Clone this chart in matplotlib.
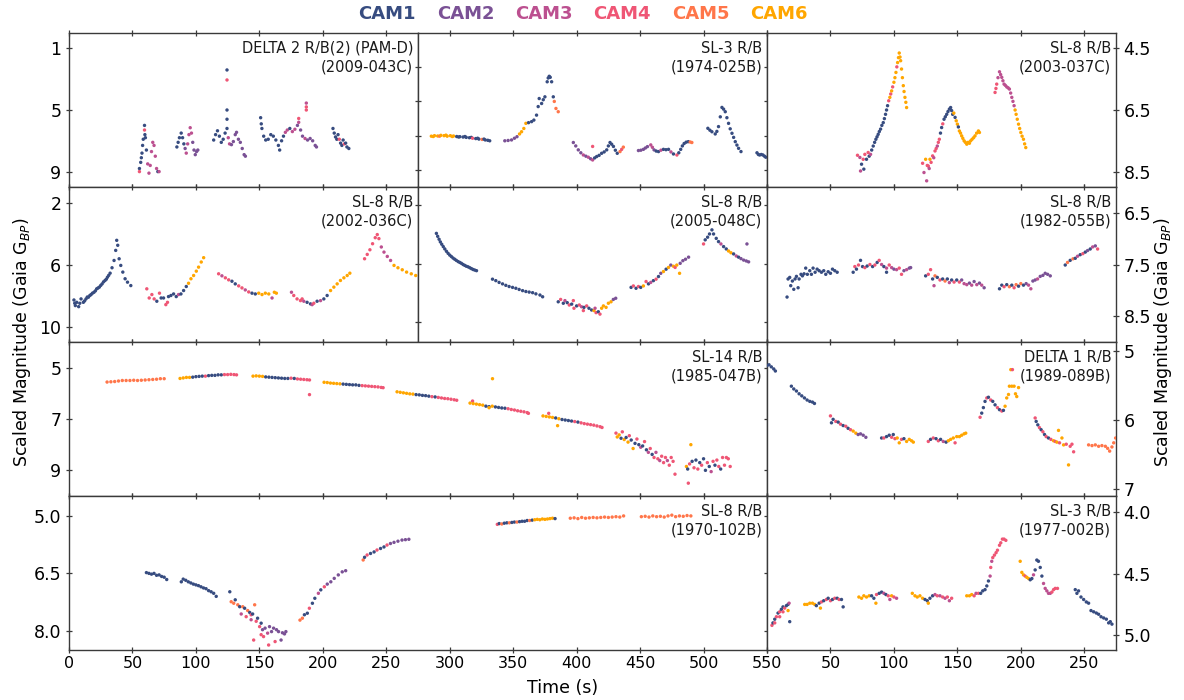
import matplotlib
matplotlib.use("Agg")
import matplotlib.pyplot as plt

CAM_NAMES = ["CAM1", "CAM2", "CAM3", "CAM4", "CAM5", "CAM6"]
CAM_COLORS = ["#374c80", "#7a5195", "#bc5090", "#ef5675", "#ff764a", "#ffa600"]

# ---- data: (time s, scaled magnitude, camera) ----
P1_LABEL = "DELTA 2 R/B(2) (PAM-D)\n(2009-043C)"
P1 = [
    (55.5,8.8,1),(55.5,9.0,4),(56.5,8.4,1),(57,8.1,1),(57.5,7.8,1),(58,7.3,1),(58.5,6.9,1),(59.5,6.0,1),(59.5,6.3,4),
    (59.8,6.6,1),(60.2,6.8,1),(61,7.6,1),(62,8.5,3),(63,9.1,3),(64,8.6,3),(65,7.7,3),(66,7.1,3),(67,7.3,3),
    (68,8.0,3),(69,8.8,3),(70,9.0,1),(71,9.0,3),
    (85,7.4,1),(86,7.1,1),(87,6.8,1),(88.4,6.5,1),(89.5,6.8,1),(90.5,7.2,1),(91.5,7.5,2),(92.4,7.8,3),(93.5,7.2,3),
    (94.5,6.6,3),(95.5,6.15,3),(96.5,6.5,3),(97.5,7.1,2),(98.5,7.6,2),(99.5,7.9,2),(100.5,7.7,2),(101.5,7.6,2),
    (114,6.95,1),(115.5,6.6,1),(117,6.35,1),(118.5,6.7,1),(120,7.1,1),(121.5,6.9,1),(123,6.5,1),(124.5,6.2,1),
    (124.5,2.4,1),(124.5,3.05,4),(124.5,5.0,1),(124.5,5.6,1),(125.5,6.8,3),(126.5,7.2,3),(128,7.25,2),(129.5,7.05,2),
    (131,6.6,2),(132,6.45,2),(133.5,6.9,2),(135,7.1,2),(136.5,7.5,2),(138,7.9,2),(139,8.0,2),
    (151,5.5,1),(151.5,5.9,1),(152,6.2,1),(153.4,6.7,1),(155,6.95,1),(157,6.9,1),(159,6.6,1),(161,6.7,1),(163,6.95,1),
    (165,7.3,1),(166,7.6,1),(167.5,7.0,1),(169,6.7,1),(170.5,6.45,3),(172,6.3,3),(174,6.2,1),(176,6.4,3),(178,6.25,3),
    (180,6.0,2),(181,5.8,3),(181,5.55,4),(182.5,6.3,2),(184,6.7,2),(186,6.85,3),(187,4.55,3),(187,4.8,4),(187,5.0,4),
    (188,6.95,2),(190,6.85,2),(192,7.0,2),(194,7.3,2),(195,7.4,2),
    (208,6.2,1),(209,6.5,1),(210,6.75,1),(211,6.9,1),(212,6.6,1),(213,6.9,4),(214,7.15,1),(215,7.3,1),(216,6.95,1),
    (217,7.2,4),(218,7.15,1),(219,7.4,1),(220.5,7.5,1),
]

P2_LABEL = "SL-3 R/B\n(1974-025B)"
P2 = [
    (10.5,8.03,6),(12,8.05,6),(13,8.0,6),(15.5,8.02,6),(17,8.03,5),(18,7.98,6),(20.5,8.0,6),(22,7.97,6),(23,8.03,6),
    (25.5,8.0,6),(27,8.05,6),(28,8.02,6),(30.5,8.05,1),(32,8.08,1),(33,8.06,1),(35.5,8.08,1),(37,8.05,1),(38,8.1,1),
    (40.5,8.12,1),(42,8.1,1),(43,8.15,4),(45.5,8.17,1),(47,8.15,1),(48,8.2,1),(50.5,8.22,5),(52,8.2,1),(53,8.25,1),
    (55,8.27,1),(56.5,8.3,1),
    (68.4,8.3,2),(71,8.28,2),(73.7,8.25,2),(76,8.15,2),(78,8.06,2),(80,7.9,6),(81.6,7.77,6),(83.4,7.58,6),(85,7.28,6),
    (87.1,7.24,1),(89.5,7.18,1),(91.3,7.09,1),(93.4,6.8,1),(94.7,6.3,1),(95.5,5.83,1),(97.4,6.12,1),(98.7,5.9,1),
    (100,5.73,1),(101.8,4.85,1),(102.6,4.63,1),(103.4,4.53,1),(104.2,4.59,1),(105.3,4.85,1),(106.6,5.73,1),
    (107.4,6.0,5),(108.7,6.41,5),(110.5,6.6,5),
    (122.4,8.4,2),(124.3,8.6,2),(126.3,8.83,2),(128.3,9.0,2),(130.3,9.13,3),(132.3,9.2,2),(134.2,9.26,3),(136,9.35,2),
    (137.6,9.42,3),(137.6,8.63,4),(139.2,9.3,1),(140.8,9.22,1),(142.7,9.15,1),(144.7,9.03,1),(146.7,8.95,1),
    (148.7,8.83,1),(150,8.6,1),(151.3,8.4,1),(152.6,8.5,1),(154,8.63,1),(155.5,8.85,1),(157,9.03,1),(159.2,8.93,5),
    (160.5,8.8,4),(161.8,8.67,5),
    (173.7,8.87,2),(175.6,8.85,2),(177.6,8.8,2),(179.2,8.72,2),(180.8,8.64,2),(183.4,8.54,3),(184.7,8.68,3),(186,8.83,2),
    (187.7,8.9,1),(189.5,8.93,1),(191.4,8.85,3),(193.4,8.8,1),(195.4,8.82,1),(197.4,8.8,1),(199.3,8.95,3),(201.3,9.07,1),
    (204,9.13,4),(205.5,9.0,1),(207,8.8,1),(208.3,8.6,1),(209.7,8.46,1),(211.3,8.38,1),(213,8.35,1),(214.5,8.37,5),
    (215.8,8.4,5),
    (228.4,7.57,1),(230,7.68,1),(231.6,7.77,1),(234.2,7.9,1),(235.5,7.75,1),(236.8,7.47,1),(238.2,6.9,1),(239.5,6.35,1),
    (240.8,6.45,1),(242.1,6.6,1),(243.4,6.95,1),(244.7,7.28,1),(246,7.6,1),(247.4,7.86,1),(248.7,8.1,1),(250,8.35,1),
    (251.3,8.55,1),(252.6,8.74,1),(254.5,8.93,1),
    (267.1,9.0,1),(268.2,9.1,1),(269.2,9.13,1),(270.5,9.1,1),(271.8,9.13,1),(273,9.2,1),(274,9.26,1),
]

P3_LABEL = "SL-8 R/B\n(2003-037C)"
P3 = [
    (71.3,7.97,4),(73.2,8.04,3),(73.7,8.48,3),(74.5,8.26,1),(75.8,8.1,4),(76.3,8.42,1),(77.1,7.94,4),(78.4,8.1,1),
    (79.7,7.88,4),(80.5,8.0,1),(81.6,7.94,3),(82.5,7.8,1),(83.7,7.67,1),(84.8,7.55,1),(85.8,7.45,1),(86.7,7.37,1),
    (87.6,7.29,1),(88.5,7.2,1),(89.5,7.12,1),(90.5,7.0,1),(91.6,6.91,1),(92.5,6.78,1),(93.4,6.64,1),(94.2,6.5,1),
    (95,6.36,1),(95.9,6.2,4),(96.8,6.09,6),(97.5,5.98,4),(98.2,5.88,6),(99,5.75,4),(100,5.6,6),(100.8,5.45,6),
    (101.6,5.28,6),(102.3,5.1,4),(102.9,4.96,6),(103.6,4.8,6),(104.2,4.65,6),(104.8,4.78,6),(105.3,4.9,6),(106,5.17,6),
    (106.7,5.45,6),(107.4,5.71,6),(108,5.9,6),(108.7,6.09,6),(109.4,6.25,6),(110,6.42,6),
    (122.6,8.23,4),(123.7,8.53,3),(125,8.1,6),(125.8,8.8,3),(126.3,8.3,4),(127.1,8.32,4),(127.8,8.4,3),(128.4,8.1,6),
    (129.3,8.2,4),(130.5,7.99,4),(131.4,8.05,3),(132.4,7.83,4),(133.3,7.75,4),(134.2,7.67,3),(135,7.55,4),(135.8,7.45,4),
    (136.7,7.25,1),(137.6,7.07,1),(138.5,6.95,4),(139.5,6.8,1),(140.5,6.72,1),(141.6,6.64,1),(142.6,6.55,1),
    (143.7,6.47,1),(144.7,6.42,1),(145.5,6.52,1),(146.3,6.64,1),(147.2,6.6,6),(148.2,6.74,1),(149.1,6.85,6),
    (150,6.96,6),(150.8,7.05,1),(151.6,7.18,6),(152.5,7.25,6),(153.4,7.34,6),(154.3,7.42,6),(155.3,7.5,6),
    (156.3,7.55,6),(157.4,7.61,6),(158.5,7.55,6),(159.5,7.58,6),(160.5,7.5,6),(161.6,7.45,6),(162.8,7.4,6),
    (163.9,7.34,6),(165.2,7.25,6),(166.6,7.18,6),(167.4,7.23,6),
    (179.7,5.93,4),(180.4,5.8,4),(181,5.66,4),(182,5.45,3),(183.2,5.26,3),(184.1,5.35,3),(185,5.44,3),(185.9,5.55,3),
    (186.8,5.66,3),(187.8,5.7,3),(188.9,5.75,3),(190,5.78,3),(191,5.82,3),(192,5.95,3),(192.9,6.09,3),(193.8,6.22,3),
    (194.7,6.36,3),(195.5,6.5,6),(196.3,6.64,6),(197.2,6.8,6),(198.2,6.96,6),(199.1,7.1,6),(200,7.23,6),(201,7.35,6),
    (202.1,7.45,6),(203,7.6,6),(203.9,7.72,6),
]

P4_LABEL = "SL-8 R/B\n(2002-036C)"
P4 = [
    (3.9,8.29,1),(4.5,8.5,1),(5,8.65,1),(6.1,8.44,1),(7.6,8.72,1),(8.5,8.5,1),(9.5,8.22,1),(11.3,8.44,1),(12.3,8.35,1),
    (13.4,8.22,1),(14.4,8.1,1),(15.3,8.11,1),(16.4,8.0,1),(17.4,7.94,1),(18.5,7.85,1),(19.7,7.79,1),(20.8,7.7,1),
    (21.8,7.57,1),(22.8,7.52,1),(23.9,7.46,1),(25,7.35,1),(26.1,7.25,1),(27.2,7.12,1),(28.4,7.03,1),(29.4,6.95,1),
    (30.3,6.82,1),(31.3,6.7,1),(32.4,6.56,1),(33.9,6.21,1),(35.5,5.74,1),(36.8,5.09,1),(37.6,4.44,1),(38.4,4.76,1),
    (39.5,5.63,1),(40.8,6.06,1),(42.4,6.49,1),(44.2,6.92,1),(46.1,7.14,1),(48.7,7.36,1),
    (61.3,7.57,4),(63.2,8.16,4),(65.3,7.94,4),(67.1,8.22,4),(69.2,8.37,1),(71.3,7.85,4),(72.6,8.16,1),(74.5,8.16,1),
    (76.3,8.59,4),(77.6,8.44,4),(78.4,8.07,1),(80.3,8.0,1),(82.4,7.9,1),(84.5,8.07,1),(86.3,7.94,3),(88.2,7.9,1),
    (90.3,7.68,1),(92.4,7.42,1),(94.2,7.21,6),(96.1,6.92,6),(98.2,6.71,6),(100.3,6.43,6),(102.1,6.17,6),(104.2,5.84,6),
    (106.1,5.56,6),
    (117.9,6.6,4),(120.5,6.73,3),(123.2,6.86,4),(125.8,6.99,4),(128.4,7.08,1),(131,7.25,1),(133.7,7.38,4),(136.3,7.51,4),
    (138.9,7.64,3),(141.6,7.77,4),(144.2,7.85,1),(146.8,7.9,1),(149.5,7.85,6),(152.1,7.94,6),(154.7,7.85,6),
    (157.4,7.9,6),(160,8.16,3),(161.8,7.79,6),(163.4,7.85,6),
    (175.3,7.79,3),(177.1,8.0,4),(179.7,8.22,4),(182.4,8.33,4),(183.7,8.22,4),(185,8.37,3),(187.6,8.44,1),(190.3,8.54,1),
    (191.6,8.59,3),(192.9,8.5,4),(195.5,8.37,1),(198.2,8.33,3),(200.8,8.22,1),(203.4,8.0,1),(206.1,7.68,6),
    (208.7,7.46,6),(211.3,7.25,6),(213.9,7.03,6),(216.6,6.86,6),(219.2,6.71,6),(221.3,6.56,6),
    (232.9,5.63,4),(235,5.35,4),(237.1,5.05,4),(239.2,4.66,4),(241.3,4.27,4),(242.9,4.07,4),(244.2,4.33,4),
    (246.1,4.87,3),(248.2,5.2,3),(250.8,5.48,3),(253.4,5.74,3),(256.1,6.06,6),(259.2,6.21,6),(262.6,6.34,6),
    (266,6.49,6),(269.7,6.6,6),(273.2,6.71,6),
]

P5_LABEL = "SL-8 R/B\n(2005-048C)"
P5 = [
    (14.5,2.97,1),(15.5,3.07,1),(16.6,3.17,1),(17.6,3.26,1),(18.7,3.34,1),(19.9,3.42,1),(21.1,3.5,1),(22.4,3.58,1),
    (23.7,3.65,1),(25,3.71,1),(26.3,3.76,1),(27.6,3.81,1),(28.9,3.85,1),(30.2,3.89,1),(31.6,3.93,1),(32.9,3.96,1),
    (34.2,3.99,1),(35.5,4.03,1),(36.8,4.06,1),(38.1,4.09,1),(39.5,4.11,1),(40.8,4.14,1),(42.1,4.17,1),(43.4,4.2,1),
    (44.7,4.22,1),(46.1,4.24,1),
    (58.7,4.53,1),(61.3,4.58,1),(63.9,4.64,1),(66.6,4.69,1),(69.2,4.74,1),(71.8,4.78,1),(74.5,4.81,1),(77.1,4.84,1),
    (79.7,4.88,1),(82.4,4.92,1),(85,4.95,1),(87.6,4.97,1),(90.3,4.99,1),(92.9,5.03,1),(96.1,5.07,1),(98.2,5.13,1),
    (110.5,5.3,1),(112.4,5.22,4),(114.5,5.35,1),(115.8,5.26,3),(117.6,5.33,1),(119.2,5.41,4),(121.1,5.38,1),
    (122.4,5.26,4),(122.9,5.52,4),(125,5.44,1),(127.1,5.41,4),(128.9,5.47,3),(130.3,5.6,4),(130.8,5.49,1),
    (132.9,5.44,4),(134.7,5.52,1),(136.8,5.58,1),(138.7,5.6,6),(139.5,5.52,3),(140.3,5.67,4),(142.1,5.64,1),
    (143.4,5.72,4),(144.7,5.52,6),(146.1,5.44,6),(148.2,5.49,6),(150,5.35,6),(152.1,5.3,6),(153.9,5.22,2),(155.8,5.18,2),
    (167.9,4.81,1),(169.7,4.76,4),(171.8,4.84,1),(173.7,4.78,4),(175.5,4.81,1),(177.6,4.76,6),(179.7,4.61,4),
    (181.6,4.69,1),(183.4,4.64,3),(185.5,4.58,1),(187.6,4.53,4),(189.5,4.44,1),(191.3,4.33,2),(193.4,4.27,6),
    (195.5,4.19,1),(197.4,4.13,6),(199.2,4.05,2),(201.3,4.09,6),(202.6,4.13,4),(203.9,4.05,6),(206.1,4.33,6),
    (206.6,3.99,2),(208.7,3.9,2),(210.8,3.85,2),(213.2,3.78,2),
    (225,3.33,4),(226.3,3.19,1),(228.2,3.1,1),(229.7,2.99,1),(231.6,2.85,1),(232.9,2.99,1),(235,3.14,1),(236.8,3.25,1),
    (238.7,3.33,3),(240.8,3.42,1),(242.9,3.5,1),(244.7,3.57,6),(246.6,3.63,6),(248.7,3.67,1),(250.8,3.74,3),
    (252.6,3.78,1),(254.5,3.83,2),(256.6,3.88,2),(258.7,3.91,2),(259.2,3.33,2),(260.5,3.94,2),
]

P6_LABEL = "SL-8 R/B\n(1982-055B)"
P6 = [
    (15.8,8.13,1),(16.6,7.78,1),(17.9,7.75,1),(18.7,7.91,1),(20,7.82,1),(21.1,7.98,1),(22.1,7.78,1),(23.2,7.73,1),
    (24.5,7.95,1),(25.3,7.78,1),(26.8,7.69,1),(27.9,7.72,1),(29.2,7.68,1),(30.5,7.57,1),(31.8,7.69,1),(33.7,7.62,1),
    (35,7.69,1),(36.3,7.57,1),(37.9,7.65,1),(39.5,7.59,1),(41.1,7.62,1),(42.9,7.65,1),(44.7,7.62,1),(46.3,7.69,1),
    (48.2,7.64,1),(50,7.67,1),(51.6,7.59,1),(53.4,7.62,1),(55.3,7.65,1),
    (67.9,7.65,1),(69.2,7.54,4),(70.5,7.59,1),(72.1,7.51,4),(73.7,7.42,1),(75.3,7.54,1),(77.1,7.56,4),(78.9,7.53,1),
    (81.1,7.5,4),(83.2,7.54,1),(85,7.51,4),(86.8,7.46,1),(88.4,7.42,4),(90.3,7.5,3),(92.1,7.54,1),(94.2,7.57,3),
    (94.2,7.65,1),(96.3,7.51,4),(98.2,7.56,3),(100,7.59,2),(102.1,7.6,3),(104.2,7.57,4),(106,7.69,4),(107.9,7.62,2),
    (110,7.6,3),(112.1,7.57,2),(113.2,7.56,2),
    (125,7.72,1),(127.1,7.69,4),(128.9,7.6,4),(130.5,7.78,1),(131.6,7.91,3),(132.4,7.72,5),(134.2,7.75,1),(136.3,7.8,4),
    (138.4,7.78,1),(140.3,7.82,5),(142.1,7.78,1),(143.7,7.85,3),(145.5,7.8,1),(147.4,7.84,4),(149.5,7.8,1),
    (151.6,7.84,4),(153.4,7.8,2),(155.3,7.87,3),(157.4,7.89,3),(159.5,7.86,2),(161.3,7.9,3),(163.2,7.83,2),
    (165.3,7.89,3),(167.4,7.86,2),(169.2,7.9,3),(171.1,7.95,2),
    (183.2,7.97,1),(185,7.9,1),(186.8,7.93,4),(188.9,7.89,1),(191,7.93,5),(192.9,7.9,1),(194.7,7.95,4),(196.3,7.89,5),
    (198.2,7.92,1),(200,7.87,5),(202.1,7.9,1),(204.2,7.87,2),(206.1,7.9,3),(207.9,7.97,3),(209.5,7.82,2),(211.3,7.8,2),
    (213.2,7.78,3),(215.3,7.73,2),(217.4,7.71,2),(219.2,7.67,2),(221.1,7.69,2),(223.2,7.72,2),
    (235,7.51,1),(236.8,7.46,5),(238.9,7.42,1),(241.1,7.39,5),(242.9,7.38,1),(244.7,7.34,3),(246.8,7.31,1),
    (248.9,7.29,4),(250.8,7.26,1),(252.6,7.23,2),(254.7,7.2,1),(256.6,7.16,3),(258.7,7.14,2),(260.5,7.2,4),
]

P7_LABEL = "SL-14 R/B\n(1985-047B)"
P7 = [
    (30,5.56,5),(33,5.55,5),(36,5.54,5),(39,5.52,5),(42,5.5,5),(45,5.5,5),(48,5.5,5),(51,5.49,5),(54,5.5,5),(57,5.49,5),
    (60,5.48,5),(63,5.47,5),(66,5.46,5),(69,5.45,5),(72,5.43,5),(75,5.43,5),
    (87.5,5.42,6),(90,5.4,6),(92.5,5.38,6),(95,5.38,6),(97.5,5.37,1),(100,5.35,1),(102.5,5.34,1),(105,5.33,1),
    (107.5,5.33,4),(110,5.31,1),(112.5,5.3,1),(115,5.3,1),(117.5,5.28,1),(120,5.28,1),(122.5,5.27,4),(125,5.27,4),
    (127.5,5.26,4),(130,5.27,4),(132,5.28,4),
    (145,5.33,6),(147.5,5.32,6),(150,5.33,6),(152.5,5.34,6),(155,5.36,1),(157.5,5.37,1),(160,5.38,1),(162.5,5.39,1),
    (165,5.4,1),(167.5,5.41,1),(170,5.42,1),(172.5,5.42,1),(175,5.41,4),(177.5,5.42,1),(180,5.44,4),(182.5,5.45,4),
    (185,5.46,4),(187.5,5.47,4),(189.5,5.48,4),(189.5,6.05,4),
    (201,5.57,6),(203.5,5.58,6),(206,5.6,6),(208.5,5.61,6),(211,5.62,6),(213.5,5.63,6),(216,5.64,1),(218.5,5.65,1),
    (221,5.66,1),(223.5,5.67,1),(226,5.67,1),(228.5,5.69,1),(231,5.7,4),(233.5,5.71,4),(236,5.72,4),(238.5,5.73,4),
    (241,5.74,4),(243.5,5.75,4),(246,5.77,4),(247.5,5.78,4),
    (258.5,5.94,6),(261,5.96,6),(263.5,5.98,6),(266,6.0,6),(268.5,6.02,6),(271,6.03,6),(273.5,6.05,1),(276,6.06,1),
    (278.5,6.08,1),(281,6.09,1),(283.5,6.11,1),(286,6.13,4),(288.5,6.14,1),(291,6.16,4),(293.5,6.18,4),(296,6.2,4),
    (298.5,6.21,4),(301,6.23,4),(303.5,6.25,4),(305.5,6.27,4),
    (316,6.38,6),(318,6.3,4),(318.5,6.4,6),(321,6.42,6),(323.5,6.44,6),(326,6.46,6),(328.5,6.5,1),(331,6.52,1),
    (331,6.56,6),(333.5,6.5,6),(333.7,5.43,6),(336,6.53,1),(338.5,6.55,1),(341,6.57,1),(343.5,6.58,1),(346,6.6,4),
    (348.5,6.63,4),(351,6.65,4),(353.5,6.68,4),(356,6.7,4),(358.5,6.72,4),(361,6.75,4),(362,6.78,4),
    (373.5,6.88,6),(376,6.9,6),(378.5,6.92,6),(381,6.94,6),(383.5,6.96,1),(386,6.99,6),(388.5,7.02,1),(391,7.04,1),
    (393.5,7.06,1),(396,7.08,1),(398.5,7.1,4),(401,7.12,1),(403.5,7.15,4),(406,7.18,4),(408.5,7.2,4),(411,7.22,4),
    (413.5,7.24,4),(416,7.27,4),(418.5,7.3,4),(420,7.33,4),(378,6.78,4),(385,7.26,6),
    (431,7.55,4),(432,7.7,6),(433.5,7.62,6),(435,7.75,1),(436,7.5,4),(437.5,7.8,6),(439,7.72,1),(440.5,7.9,6),
    (441.5,7.65,4),(443,7.82,1),(444.5,8.15,6),(446,7.95,1),(447.5,7.78,4),(449,8.0,1),(450.5,8.1,3),(452,8.05,1),
    (453.5,7.88,4),(455,8.2,1),(456.5,8.3,3),(458,8.15,4),(459.5,8.38,1),(461,8.5,4),(462.5,8.3,3),(464,8.55,4),
    (465.5,8.62,3),(467,8.45,4),(468.5,8.7,4),(470,8.5,4),(471.5,8.62,3),(473,8.8,4),(474.5,8.5,4),(476,8.65,4),
    (477.5,9.15,4),
    (486.5,8.85,6),(487.5,8.95,1),(488,9.5,4),(489,8.75,4),(490,8.0,6),(491,8.65,1),(492.5,8.9,4),(494,8.6,1),
    (495.5,8.95,4),(497,8.7,1),(498.5,8.8,4),(500,8.55,1),(501.5,9.0,1),(503,8.7,4),(504.5,8.85,1),(506,9.05,3),
    (507.5,8.65,4),(509,8.8,1),(510.5,8.6,4),(512,8.85,4),(513.5,8.95,1),(515,8.5,4),(516.5,8.8,4),(518,8.5,4),
    (519.5,8.55,4),(521,8.85,4),
]

P8_LABEL = "DELTA 1 R/B\n(1989-089B)"
P8 = [
    (0,5.21,1),(1.6,5.2,1),(3.4,5.23,1),(5.3,5.26,1),(6.6,5.29,1),
    (19.2,5.51,1),(21.1,5.55,1),(23.2,5.58,1),(25.3,5.62,1),(27.4,5.65,1),(29.5,5.68,1),(31.6,5.71,1),(33.7,5.73,1),
    (35.8,5.74,1),(37.4,5.76,1),
    (50,5.94,4),(50.8,6.04,1),(52.1,5.99,1),(54.2,6.02,4),(56.1,6.03,1),(57.9,6.06,4),(60,6.08,1),(62.1,6.09,4),
    (63.9,6.12,1),(65.8,6.14,4),(67.9,6.16,6),(70,6.19,6),(71.8,6.21,2),(73.7,6.2,2),(75.8,6.22,2),(77.9,6.25,2),
    (90.3,6.26,1),(92.1,6.26,4),(94.2,6.24,1),(96.3,6.22,1),(98.2,6.25,4),(99.5,6.21,1),(100.8,6.27,4),(102.6,6.26,6),
    (104.2,6.33,6),(106,6.28,4),(107.9,6.27,1),(110,6.31,6),(112.1,6.28,6),(113.9,6.3,6),(115.3,6.32,6),
    (127.1,6.31,4),(128.9,6.28,1),(131,6.26,4),(133.2,6.27,1),(135,6.3,4),(136.8,6.28,1),(138.9,6.31,3),(141.1,6.32,1),
    (142.9,6.3,6),(144.7,6.28,6),(146.8,6.26,6),(148.2,6.33,4),(149.5,6.24,6),(151.6,6.24,6),(153.4,6.22,6),
    (155.3,6.2,6),(156.6,6.19,6),
    (167.9,5.96,4),(169.2,5.9,1),(170.5,5.82,1),(171.8,5.73,1),(173.2,5.68,4),(174.5,5.67,1),(176.3,5.71,4),
    (177.9,5.73,1),(179.7,5.78,1),(181.6,5.82,4),(183.2,5.85,1),(185,5.87,4),(186.3,5.86,1),(187.6,5.8,6),
    (188.9,5.68,6),(190.3,5.63,6),(191,5.51,6),(192.1,5.27,6),(193.4,5.27,4),(192.9,5.51,6),(194.7,5.51,6),
    (195.8,5.62,6),(196.8,5.66,6),(198.2,5.53,6),
    (211.3,5.97,4),(212.1,6.02,1),(213.4,6.07,1),(214.7,6.11,4),(216,6.14,1),(217.4,6.17,4),(218.7,6.21,1),(220,6.24,4),
    (221.8,6.26,1),(223.7,6.28,4),(225.8,6.3,6),(227.1,6.31,4),(228.4,6.32,6),(229.7,6.15,6),(230.5,6.33,4),
    (232.4,6.26,6),(233.7,6.36,6),(235.8,6.35,4),(237.6,6.65,6),(238.9,6.38,4),(240.3,6.35,4),(241.6,6.46,4),
    (253.4,6.36,5),(256.1,6.37,5),(258.7,6.36,5),(261.3,6.38,5),(263.9,6.37,5),(266.6,6.38,5),(268.4,6.41,5),
    (270,6.45,5),(271.8,6.39,5),(273.2,6.33,5),(274.7,6.26,5),
]

P9_LABEL = "SL-8 R/B\n(1970-102B)"
P9 = [
    (61,6.48,1),(63,6.5,1),(65,6.52,1),(67,6.5,1),(69,6.55,1),(71,6.54,1),(73,6.58,1),(75,6.6,1),(77,6.66,1),
    (88.5,6.72,1),(90,6.65,1),(92,6.68,1),(94,6.72,1),(96,6.75,1),(98,6.78,1),(100,6.8,1),(102,6.82,1),(104,6.85,1),
    (106,6.88,1),(108,6.9,1),(110,6.95,1),(112,6.98,1),(114,7.02,1),(116,7.1,1),
    (126.7,6.98,1),(127.8,7.24,5),(129.8,7.28,5),(131,7.19,1),(133,7.32,5),(134.5,7.37,1),(135.7,7.56,3),
    (136.9,7.37,5),(138.4,7.41,1),(139.6,7.63,4),(140.8,7.47,5),(142.4,7.52,1),(143.5,7.71,3),(143.5,7.58,4),
    (144.7,7.56,1),(145.5,8.24,4),(146.3,7.32,5),(147.5,7.75,4),(148.6,7.67,1),(150.2,7.89,4),(151.4,7.8,1),
    (151.4,8.1,4),(152.5,7.97,2),(153.3,8.15,4),(154.5,7.93,2),(156.5,8.06,3),(157.3,8.37,4),(158,7.89,2),
    (159.6,8.02,2),(161.2,7.93,2),(162.4,8.28,4),(163.5,7.97,2),(165.1,8.02,2),(167.1,8.24,2),(168.2,8.05,2),
    (169.8,8.08,2),(170.9,8.02,2),
    (182,7.72,5),(183.9,7.67,5),(185.5,7.58,1),(187.8,7.54,1),(189.4,7.41,4),(191.8,7.28,1),(193.7,7.15,1),
    (196.5,7.02,3),(198.4,6.93,1),(201.2,6.85,4),(203.5,6.78,2),(206.3,6.72,2),(209,6.63,2),(212.2,6.54,2),
    (215.3,6.46,2),(218,6.43,2),
    (231.8,6.15,5),(232.9,6.08,1),(234.9,6.02,4),(237.6,5.98,1),(240.4,5.94,1),(242.7,5.89,4),(245.5,5.85,1),
    (248.2,5.81,1),(250.6,5.76,4),(253.3,5.72,2),(256.1,5.69,2),(259.2,5.66,2),(262.4,5.63,2),(265.1,5.62,2),
    (267.8,5.61,2),
    (337.5,5.22,4),(339,5.2,1),(341,5.21,5),(343,5.19,1),(345,5.18,1),(347,5.18,5),(349,5.17,1),(351,5.16,1),
    (353,5.16,5),(355,5.15,1),(357,5.14,1),(359,5.14,1),(361,5.12,1),(363,5.12,5),(365,5.11,1),(367,5.1,6),
    (369,5.09,6),(371,5.1,6),(373,5.08,6),(375,5.09,6),(377,5.08,6),(379,5.07,6),(381,5.06,6),(383,5.07,1),
    (395,5.06,5),(398,5.05,5),(401,5.07,5),(404,5.04,5),(407,5.06,5),(410,5.05,5),(413,5.04,5),(416,5.05,5),
    (419,5.04,5),(422,5.03,5),(425,5.04,5),(428,5.03,5),(431,5.02,5),(434,5.03,5),(437,5.0,5),
    (451,5.02,5),(454,5.01,5),(457,5.03,5),(460,5.0,5),(463,5.02,5),(466,5.01,5),(469,5.03,5),(472,5.0,5),
    (475,4.98,5),(478,5.02,5),(481,5.0,5),(484,5.01,5),(487,4.99,5),(490,5.0,5),
]

P10_LABEL = "SL-3 R/B\n(1977-002B)"
P10 = [
    (3.9,4.92,4),(4.7,4.9,1),(6.1,4.87,1),(6.1,4.9,4),(7.4,4.85,4),(8.7,4.82,1),(10,4.81,4),(10,4.85,4),(11.3,4.79,1),
    (12.6,4.77,1),(12.6,4.81,4),(13.9,4.78,4),(15.3,4.76,1),(16.6,4.75,1),(16.6,4.8,6),(17.4,4.74,3),(17.9,4.89,1),
    (29.7,4.75,6),(31.6,4.75,6),(33.7,4.74,6),(35.8,4.74,6),(37.6,4.75,6),(38.9,4.76,1),(41.1,4.74,1),(42.1,4.78,6),
    (42.9,4.73,4),(44.7,4.72,1),(46.8,4.71,4),(48.2,4.7,1),(50,4.72,4),(51.6,4.71,1),(53.4,4.7,4),(55.3,4.7,1),
    (56.8,4.71,4),(58.7,4.71,1),(60,4.77,1),
    (72.4,4.69,6),(74.5,4.7,6),(76.3,4.68,6),(78.4,4.69,6),(80.5,4.68,6),(82.4,4.68,1),(84.2,4.7,1),(85.8,4.74,6),
    (86.3,4.67,4),(88.4,4.66,1),(90.3,4.65,1),(92.1,4.66,3),(93.7,4.67,1),(95.5,4.68,4),(96.8,4.71,3),(98.2,4.68,6),
    (100,4.69,4),(102.1,4.7,3),
    (114.5,4.66,6),(116.6,4.68,6),(118.4,4.69,6),(120.5,4.68,6),(122.6,4.7,6),(124.5,4.71,1),(126.3,4.72,1),
    (127.1,4.74,6),(128.4,4.7,1),(130.5,4.68,1),(132.4,4.67,3),(134.2,4.68,4),(136.3,4.68,3),(138.4,4.69,4),
    (140.3,4.7,3),(142.1,4.69,4),(143.7,4.72,3),(145.5,4.7,4),
    (157.4,4.68,6),(159.5,4.68,6),(161.3,4.67,6),(163.2,4.68,4),(164.7,4.66,3),(166.6,4.66,4),(168.4,4.66,1),
    (170,4.64,1),(171.8,4.63,1),(173.2,4.6,1),(174.5,4.56,1),(175.8,4.52,3),(176.3,4.45,4),(177.1,4.4,3),
    (177.9,4.37,4),(179.2,4.35,4),(180.5,4.33,4),(181.6,4.31,4),(183.2,4.27,4),(184.2,4.25,4),(185.5,4.22,4),
    (186.8,4.22,4),(188.2,4.23,4),
    (199.5,4.4,6),(200.8,4.49,6),(202.1,4.51,6),(203.4,4.52,4),(204.7,4.53,6),(206.1,4.54,6),(207.4,4.55,1),
    (208.7,4.54,1),(210,4.51,3),(211.3,4.47,1),(212.6,4.39,1),(213.9,4.4,1),(215.3,4.45,1),(216.6,4.52,1),
    (217.9,4.58,3),(219.2,4.62,3),(220.5,4.64,3),(221.8,4.66,3),(223.2,4.66,3),(224.5,4.65,4),(225.8,4.63,4),
    (227.1,4.62,4),(228.9,4.62,4),
    (242.9,4.63,1),(244.2,4.66,1),(245.5,4.64,1),(247.4,4.69,1),(249.5,4.71,1),(251.6,4.73,1),(253.4,4.74,1),
    (255.3,4.8,1),(257.4,4.81,1),(259.5,4.82,1),(261.3,4.83,1),(263.2,4.85,1),(265.3,4.86,1),(267.4,4.87,1),
    (269.2,4.9,1),(270.5,4.89,1),(271.8,4.91,1),
]

R4L_XTICKS = [0, 50, 100, 150, 200, 250, 300, 350, 400, 450, 500, 550]
R4R_XTICKS = [50, 100, 150, 200, 250]
R4L_YTICKLABELS = ["5.0", "6.5", "8.0"]
R4R_YTICKLABELS = ["4.0", "4.5", "5.0"]

# ---- figure ----
W, H = 1184, 700
fig = plt.figure(figsize=(W / 100, H / 100), dpi=100)

XS = [69, 418, 767, 1116]
YS = [33, 187, 342, 496, 650]
SPINE = "#3a3a3a"


def make_ax(c0, c1, r):
    x0, x1 = XS[c0], XS[c1]
    y0, y1 = YS[r], YS[r + 1]
    return fig.add_axes([x0 / W, 1 - y1 / H, (x1 - x0) / W, (y1 - y0) / H])


def setup(ax, span, ylim, yticks, side, xticks, xlabels=None, ylabels=None):
    ax.set_xlim(0, span)
    ax.set_ylim(*ylim)
    ax.set_xticks(xticks)
    ax.set_yticks(yticks)
    for sp in ax.spines.values():
        sp.set_color(SPINE)
        sp.set_linewidth(1.0)
    ax.tick_params(axis="x", direction="inout", length=5, width=0.9, color=SPINE,
                   top=True, bottom=True, labelbottom=xlabels is not None, labelsize=11.5, pad=2)
    if xlabels is not None:
        ax.set_xticklabels(xlabels)
    left = side in ("left", "both", "lboth")
    right = side in ("right", "both", "lboth")
    ax.tick_params(axis="y", direction="inout", length=5, width=0.9, color=SPINE,
                   left=left, right=right,
                   labelleft=side in ("left", "lboth"), labelright=side == "right",
                   labelsize=12.5, pad=3)
    if ylabels is not None:
        ax.set_yticklabels(ylabels)


def draw(ax, pts, label):
    t = [p[0] for p in pts]
    m = [p[1] for p in pts]
    cols = [CAM_COLORS[p[2] - 1] for p in pts]
    ax.scatter(t, m, c=cols, s=6, linewidths=0, zorder=3)
    ax.annotate(label, xy=(1, 1), xycoords="axes fraction", xytext=(-3.5, -5.5),
                textcoords="offset points", ha="right", va="top", fontsize=10.5,
                linespacing=1.35, color="#1a1a1a")


narrow_l = [0, 50, 100, 150, 200, 250]
narrow_m = [25, 75, 125, 175, 225, 275]

ax = make_ax(0, 1, 0); setup(ax, 275, (10, 0), [1, 5, 9], "left", narrow_l); draw(ax, P1, P1_LABEL)
ax = make_ax(1, 2, 0); setup(ax, 275, (11, 2), [4, 6, 8, 10], "both", narrow_m); draw(ax, P2, P2_LABEL)
ax = make_ax(2, 3, 0); setup(ax, 275, (9, 4), [4.5, 6.5, 8.5], "right", narrow_l); draw(ax, P3, P3_LABEL)

ax = make_ax(0, 1, 1); setup(ax, 275, (11, 1), [2, 6, 10], "left", narrow_l); draw(ax, P4, P4_LABEL)
ax = make_ax(1, 2, 1); setup(ax, 275, (6.67, 1.39), [2, 4, 6], "both", narrow_m); draw(ax, P5, P5_LABEL)
ax = make_ax(2, 3, 1); setup(ax, 275, (9, 6), [6.5, 7.5, 8.5], "right", narrow_l); draw(ax, P6, P6_LABEL)

ax = make_ax(0, 2, 2); setup(ax, 550, (10, 4), [5, 7, 9], "lboth", R4L_XTICKS); draw(ax, P7, P7_LABEL)
ax = make_ax(2, 3, 2); setup(ax, 275, (7.1, 4.87), [5, 6, 7], "right", narrow_l); draw(ax, P8, P8_LABEL)

ax = make_ax(0, 2, 3)
setup(ax, 550, (8.5, 4.48), [5.0, 6.5, 8.0], "lboth", R4L_XTICKS,
      xlabels=[str(v) for v in R4L_XTICKS], ylabels=R4L_YTICKLABELS)
draw(ax, P9, P9_LABEL)
ax = make_ax(2, 3, 3)
setup(ax, 275, (5.12, 3.87), [4.0, 4.5, 5.0], "right", [0] + R4R_XTICKS,
      xlabels=[""] + [str(v) for v in R4R_XTICKS], ylabels=R4R_YTICKLABELS)
draw(ax, P10, P10_LABEL)

# axis titles
ylab = "Scaled Magnitude (Gaia G$_{BP}$)"
fig.text(22 / W, 1 - 342 / H, ylab, rotation=90, ha="center", va="center", fontsize=12.5)
fig.text(1163 / W, 1 - 342 / H, ylab, rotation=90, ha="center", va="center", fontsize=12.5)
fig.text(563 / W, 1 - 688 / H, "Time (s)", ha="center", va="center", fontsize=12.5)

# camera legend
for i, (name, col) in enumerate(zip(CAM_NAMES, CAM_COLORS)):
    cx = 387 + i * 78.4
    fig.text(cx / W, 1 - 14 / H, name, ha="center", va="center", fontsize=13,
             fontweight="bold", color=col)

fig.savefig("out.png", dpi=100)
